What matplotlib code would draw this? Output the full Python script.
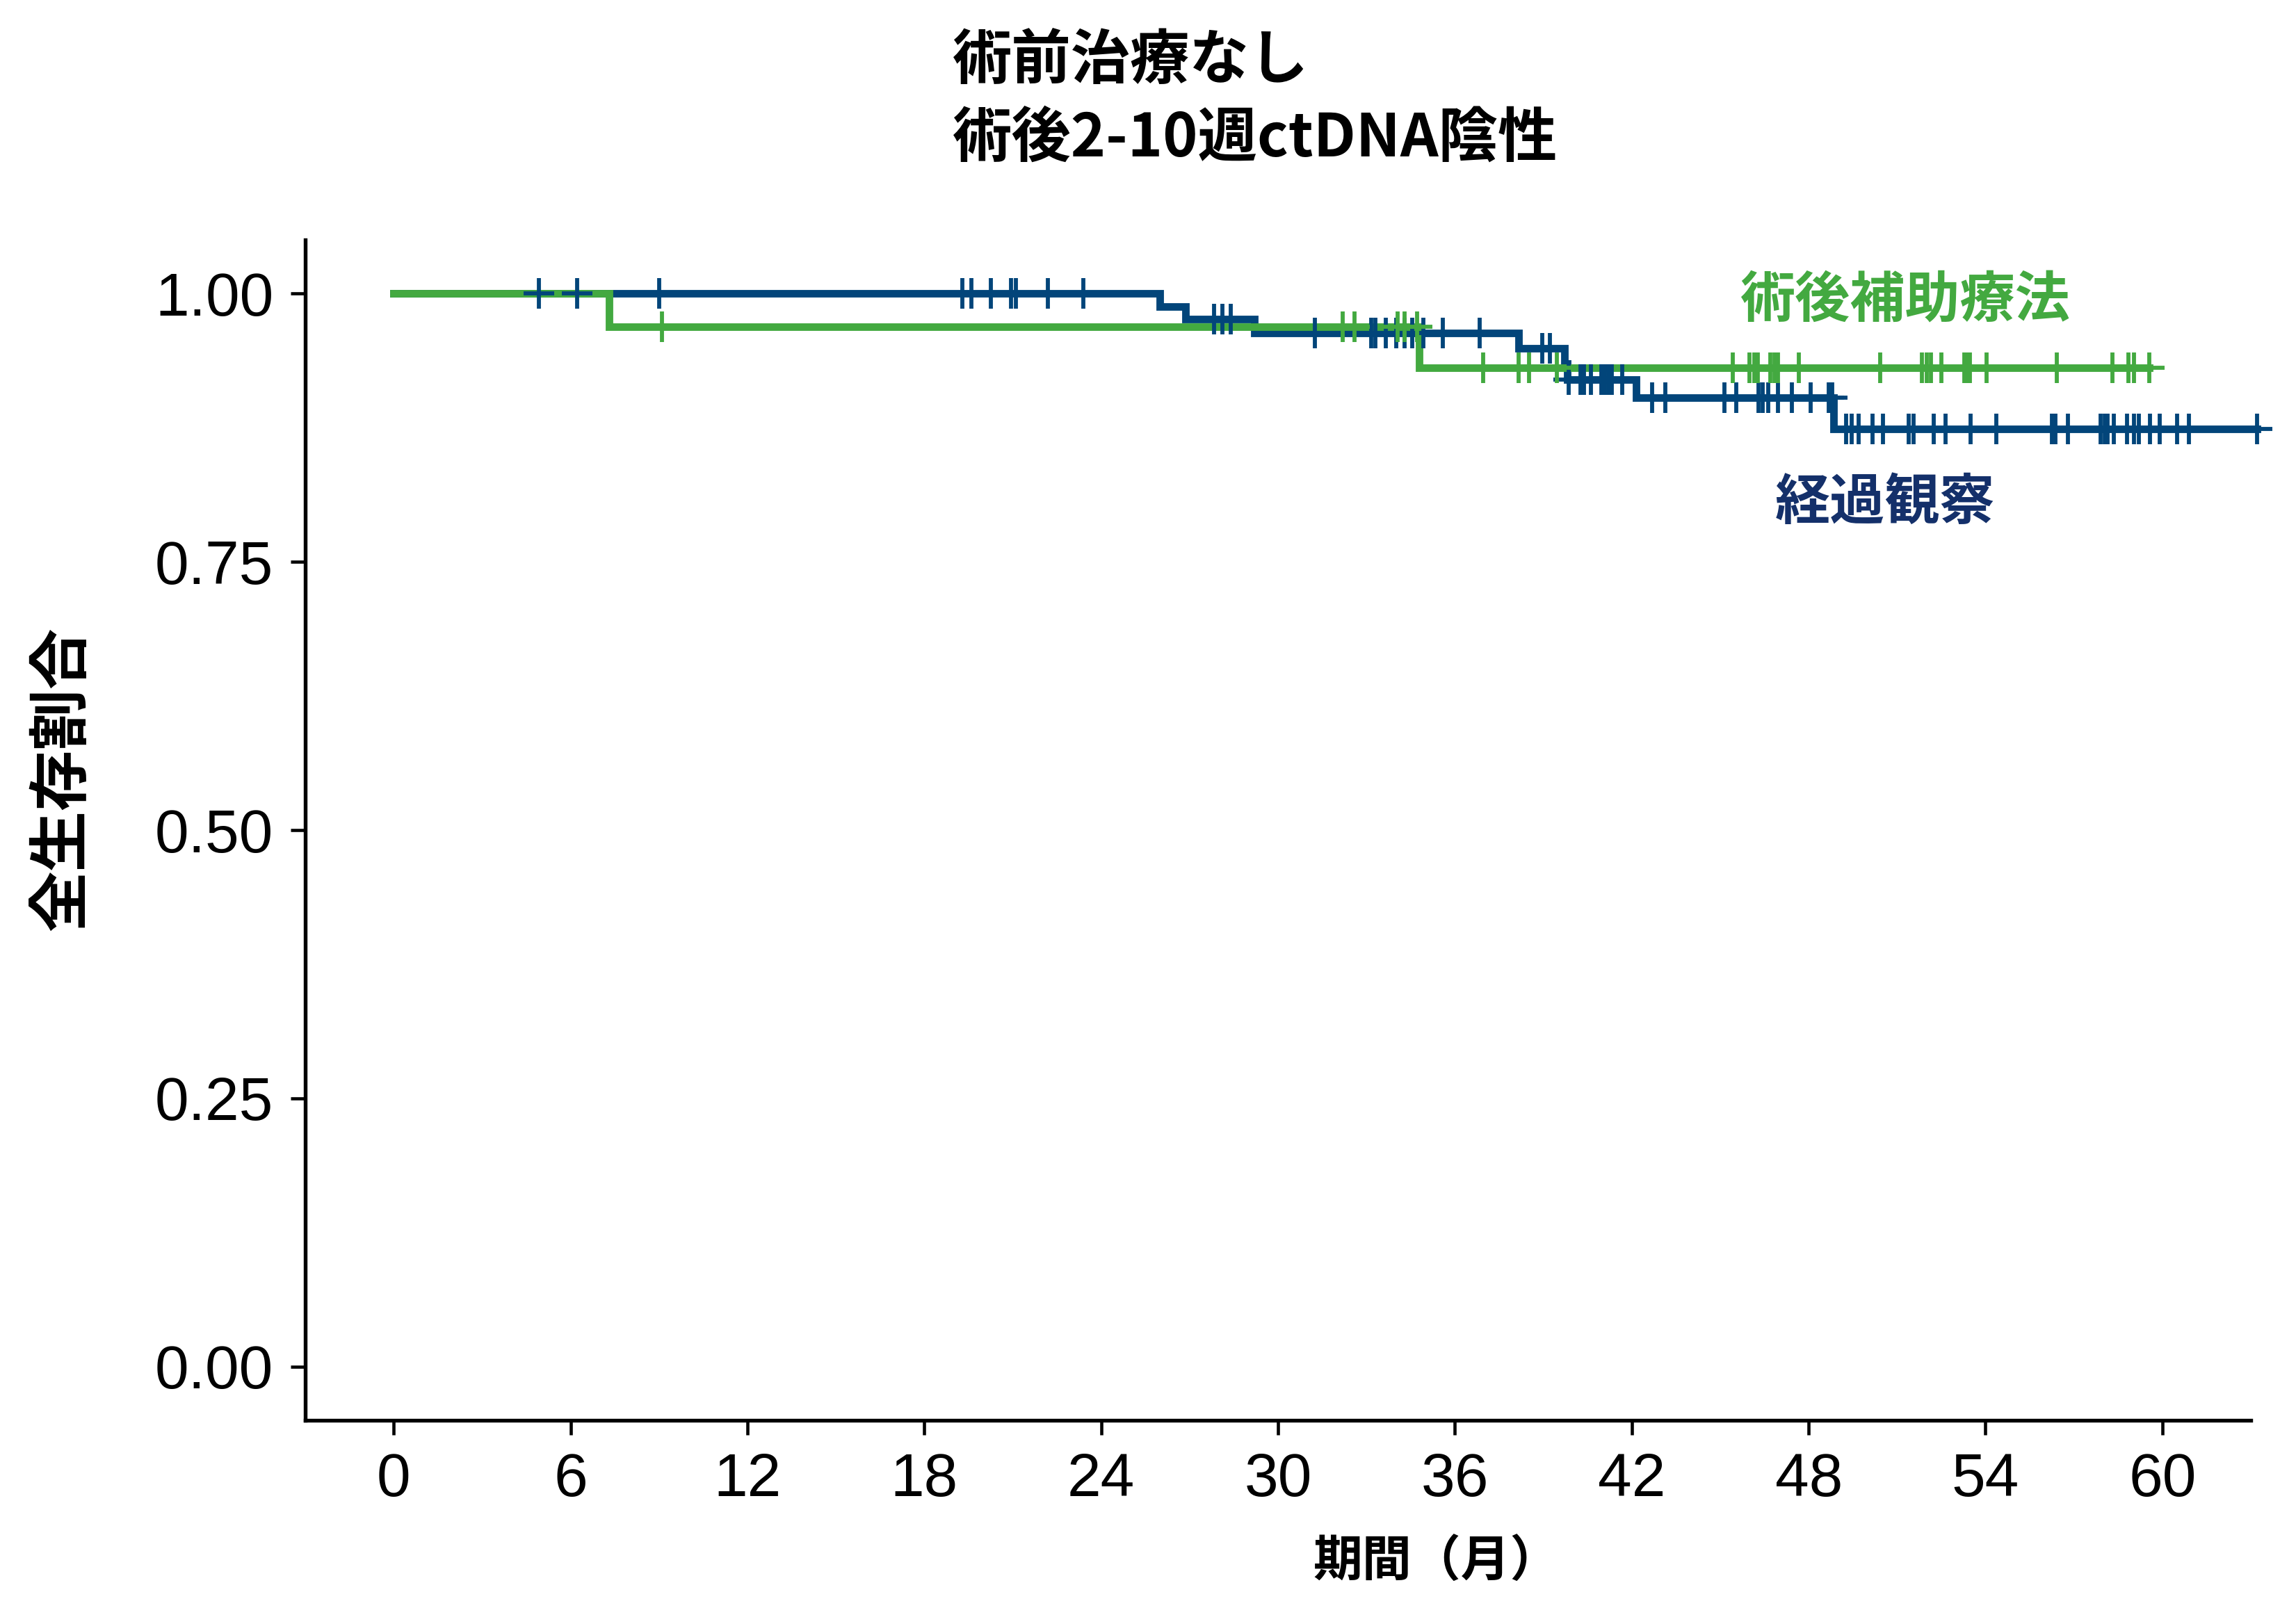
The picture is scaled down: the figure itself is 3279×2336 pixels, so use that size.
import numpy as np
import matplotlib
matplotlib.use("Agg")
import matplotlib.pyplot as plt

# ---------------- data ----------------
title_lines = ["術前治療なし", "術後2-10週ctDNA陰性"]
group_names = ["術後補助療法", "経過観察"]

# adjuvant (green): event times and survival after each event
adj_event_t = [7.31, 34.78]
adj_event_s = [0.969, 0.931]
adj_end = 59.56
adj_censor = [9.1, 32.2, 32.6, 34.05, 34.3, 34.72, 36.95, 38.15, 38.52, 39.45,
              45.42, 46.0, 46.15, 46.27, 46.7, 46.83, 46.95, 47.66, 50.43,
              51.85, 52.0, 52.15, 52.5, 53.28, 53.38, 53.48, 54.03, 56.42,
              58.3, 58.85, 59.04, 59.56]

# observation (navy)
obs_event_t = [26.0, 26.87, 29.19, 38.15, 39.72, 39.82, 42.15, 48.84]
obs_event_s = [0.988, 0.976, 0.963, 0.949, 0.935, 0.920, 0.903, 0.874]
obs_end = 63.22
obs_censor = [4.93, 6.21, 9.01, 19.3, 19.6, 20.25, 20.95, 21.1, 22.2, 23.4,
              27.84, 28.12, 28.39, 31.26, 33.15, 33.3, 33.65, 34.02, 34.3,
              34.55, 34.92, 35.6, 36.83, 38.97, 39.23, 39.87, 40.26, 40.38,
              40.62, 40.97, 41.09, 41.21, 41.33, 41.68, 42.7, 43.14, 45.15,
              45.54, 46.29, 46.45, 46.62, 46.96, 47.43, 48.06, 48.69, 48.8,
              49.28, 49.45, 49.7, 50.16, 50.51, 51.39, 51.55, 52.25, 52.65,
              53.5, 54.36, 56.26, 56.38, 56.8, 57.9, 58.05, 58.15, 58.36, 58.8,
              59.04, 59.2, 59.58, 59.9, 60.5, 60.9, 63.22]

x_ticks = [0, 6, 12, 18, 24, 30, 36, 42, 48, 54, 60]
y_ticks = [0.00, 0.25, 0.50, 0.75, 1.00]
x_label = "期間（月）"
y_label = "全生存割合"

green = "#43A940"
navy = "#02457A"
navy_text = "#14306A"

cjk = ["Noto Sans CJK JP", "DejaVu Sans"]

# ---------------- figure ----------------
W, H = 3279, 2336
fig = plt.figure(figsize=(W / 300, H / 300), dpi=300)
ax = fig.add_axes([0.1339, 0.1254, 0.9872 - 0.1339, 0.8523 - 0.1254])


def step_arrays(ev_t, ev_s, end):
    t = np.concatenate([[0.0], ev_t, [end]])
    s = np.concatenate([[1.0], ev_s, [ev_s[-1]]])
    return t, s


def surv_at(ev_t, ev_s, times):
    idx = np.searchsorted(np.asarray(ev_t), np.asarray(times), side="right")
    levels = np.concatenate([[1.0], ev_s])
    return levels[idx]


lw = 2.6
t_o, s_o = step_arrays(obs_event_t, obs_event_s, obs_end)
t_a, s_a = step_arrays(adj_event_t, adj_event_s, adj_end)
ax.step(t_o, s_o, where="post", color=navy, lw=lw, clip_on=False, zorder=2,
        solid_joinstyle="miter")
ax.step(t_a, s_a, where="post", color=green, lw=lw, clip_on=False, zorder=3,
        solid_joinstyle="miter")
ax.plot(obs_censor, surv_at(obs_event_t, obs_event_s, obs_censor), ls="none",
        marker="+", ms=10.5, mew=1.4, color=navy, clip_on=False, zorder=4)
ax.plot(adj_censor, surv_at(adj_event_t, adj_event_s, adj_censor), ls="none",
        marker="+", ms=10.5, mew=1.4, color=green, clip_on=False, zorder=5)

ax.set_xlim(-3, 63)
ax.set_ylim(-0.05, 1.05)
ax.set_xticks(x_ticks)
ax.set_xticklabels([str(v) for v in x_ticks], family="Liberation Sans", fontsize=21)
ax.set_yticks(y_ticks)
ax.set_yticklabels([f"{v:.2f}" for v in y_ticks], family="Liberation Sans", fontsize=21)

for side in ["top", "right"]:
    ax.spines[side].set_visible(False)
for side in ["left", "bottom"]:
    ax.spines[side].set_linewidth(1.3)
    ax.spines[side].set_color("black")
ax.tick_params(axis="both", length=5, width=1.1, color="black", labelcolor="black", pad=6)

# axis labels placed to match reference
fig.text(2066 / W, 1 - 2246 / H, x_label, family=cjk, fontweight="bold",
         fontsize=17, ha="center", va="center")
fig.text(90 / W, 1 - 1120 / H, y_label, family=cjk, fontweight="bold",
         fontsize=21, ha="center", va="center", rotation=90)

# title
fig.text(1370 / W, 1 - 88 / H, title_lines[0], family=cjk, fontweight="bold",
         fontsize=20.5, ha="left", va="center")
fig.text(1370 / W, 1 - 199 / H, title_lines[1], family=cjk, fontweight="bold",
         fontsize=20.5, ha="left", va="center")

# group labels
ax.text(51.27, 0.994, group_names[0], family=cjk, fontweight="bold", fontsize=19,
        color=green, ha="center", va="center")
ax.text(50.6, 0.805, group_names[1], family=cjk, fontweight="bold", fontsize=19,
        color=navy_text, ha="center", va="center")

fig.savefig("out.png", dpi=300, facecolor="white")
